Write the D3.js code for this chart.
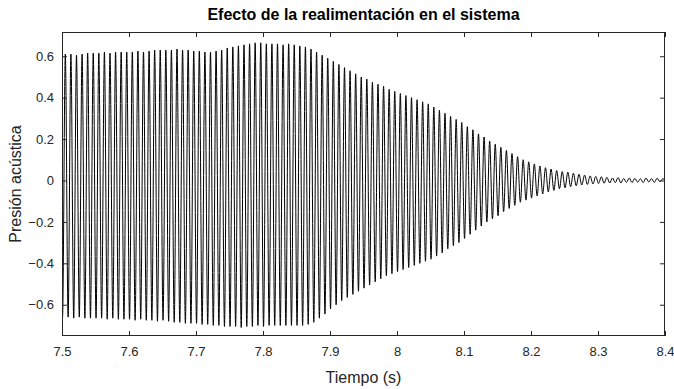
<!DOCTYPE html>
<html lang="es">
<head>
<meta charset="utf-8">
<title>Efecto de la realimentación en el sistema</title>
<script src="https://cdn.jsdelivr.net/npm/d3@7"></script>
<style>
  body { margin: 0; background: #fff; }
  svg text { font-family: "Liberation Sans", Arial, sans-serif; }
</style>
</head>
<body>
<div id="grafica"></div>
<script>
// ejes
var xTicks = [7.5, 7.6, 7.7, 7.8, 7.9, 8, 8.1, 8.2, 8.3, 8.4];
var yTicks = [-0.6, -0.4, -0.2, 0, 0.2, 0.4, 0.6];
var xLim = [7.5, 8.4];
var yLim = [-0.751, 0.717];

// señal: valor inicial, picos por ciclo (120 Hz) y valor final
var t0 = 7.5008;            // primer pico negativo (s)
var semiperiodo = 1 / 240;  // medio ciclo (s)
var inicio = { t: 7.5, p: -0.22 };
var fin = { t: 8.4, p: 0.004 };
var picosSup = [
  0.61, 0.61, 0.605, 0.61, 0.615, 0.615,
  0.615, 0.62, 0.615, 0.62, 0.62, 0.62,
  0.62, 0.625, 0.62, 0.625, 0.63, 0.63,
  0.63, 0.63, 0.635, 0.63, 0.63, 0.625,
  0.625, 0.62, 0.62, 0.625, 0.63, 0.64,
  0.645, 0.65, 0.655, 0.66, 0.665, 0.665,
  0.66, 0.66, 0.66, 0.655, 0.66, 0.655,
  0.65, 0.645, 0.635, 0.62, 0.605, 0.59,
  0.575, 0.56, 0.545, 0.53, 0.515, 0.50,
  0.49, 0.475, 0.465, 0.455, 0.44, 0.43,
  0.42, 0.41, 0.40, 0.39, 0.38, 0.37,
  0.355, 0.34, 0.325, 0.31, 0.295, 0.28,
  0.26, 0.245, 0.225, 0.21, 0.19, 0.175,
  0.16, 0.145, 0.13, 0.115, 0.10, 0.09,
  0.08, 0.07, 0.062, 0.055, 0.048, 0.043,
  0.04, 0.035, 0.03, 0.026, 0.022, 0.02,
  0.018, 0.015, 0.012, 0.014, 0.01, 0.012,
  0.01, 0.008, 0.012, 0.009, 0.011, 0.008
];
var picosInf = [
  -0.66, -0.66, -0.665, -0.66, -0.665, -0.665,
  -0.665, -0.665, -0.67, -0.665, -0.67, -0.67,
  -0.67, -0.675, -0.67, -0.675, -0.675, -0.68,
  -0.675, -0.68, -0.685, -0.685, -0.69, -0.69,
  -0.69, -0.695, -0.695, -0.70, -0.70, -0.705,
  -0.705, -0.705, -0.71, -0.705, -0.705, -0.70,
  -0.705, -0.70, -0.70, -0.70, -0.70, -0.70,
  -0.70, -0.70, -0.695, -0.685, -0.665, -0.645,
  -0.62, -0.60, -0.58, -0.565, -0.55, -0.535,
  -0.52, -0.505, -0.49, -0.475, -0.46, -0.45,
  -0.44, -0.43, -0.42, -0.41, -0.40, -0.39,
  -0.38, -0.365, -0.35, -0.33, -0.315, -0.30,
  -0.28, -0.26, -0.24, -0.22, -0.20, -0.185,
  -0.17, -0.15, -0.135, -0.12, -0.105, -0.095,
  -0.085, -0.075, -0.065, -0.055, -0.048, -0.04,
  -0.035, -0.03, -0.026, -0.022, -0.019, -0.017,
  -0.015, -0.013, -0.012, -0.01, -0.012, -0.009,
  -0.01, -0.008, -0.01, -0.007, -0.009, -0.006
];

var w = 674, h = 389;
var m = { top: 32, right: 9, bottom: 53, left: 62 };
var colorEje = "#262626";

var svg = d3.select("#grafica").append("svg")
  .attr("width", w).attr("height", h);

var x = d3.scaleLinear().domain(xLim).range([m.left, w - m.right]);
var y = d3.scaleLinear().domain(yLim).range([h - m.bottom, m.top]);

// puntos de la señal, alternando picos negativos y positivos
var puntos = [inicio];
picosInf.forEach(function(v, k) {
  puntos.push({ t: t0 + 2 * k * semiperiodo, p: v });
  puntos.push({ t: t0 + (2 * k + 1) * semiperiodo, p: picosSup[k] });
});
puntos.push(fin);

var linea = d3.line()
  .x(function(d) { return x(d.t); })
  .y(function(d) { return y(d.p); })
  .curve(d3.curveMonotoneX);

svg.append("clipPath").attr("id", "recorte")
  .append("rect")
  .attr("x", m.left).attr("y", m.top)
  .attr("width", w - m.left - m.right).attr("height", h - m.top - m.bottom);

svg.append("path")
  .datum(puntos)
  .attr("clip-path", "url(#recorte)")
  .attr("fill", "none")
  .attr("stroke", "#000")
  .attr("stroke-width", 1)
  .attr("d", linea);

// ejes (marcas hacia dentro, como MATLAB)
var fmt = function(d) { return d3.format("")(+d.toFixed(1)); };
var ejeX = d3.axisBottom(x).tickValues(xTicks).tickSize(-5).tickPadding(11).tickFormat(fmt);
var ejeY = d3.axisLeft(y).tickValues(yTicks).tickSize(-5).tickPadding(8).tickFormat(fmt);

function estilo(g) {
  g.select(".domain").remove();
  g.selectAll("line").attr("stroke", colorEje);
  g.selectAll("text").attr("fill", colorEje).attr("font-size", "13px");
}

svg.append("g").attr("transform", "translate(0," + (h - m.bottom) + ")").call(ejeX).call(estilo);
svg.append("g").attr("transform", "translate(" + m.left + ",0)").call(ejeY).call(estilo);
svg.append("g").attr("transform", "translate(0," + m.top + ")")
  .call(d3.axisTop(x).tickValues(xTicks).tickSize(-5).tickFormat(""))
  .call(estilo);
svg.append("g").attr("transform", "translate(" + (w - m.right) + ",0)")
  .call(d3.axisRight(y).tickValues(yTicks).tickSize(-5).tickFormat(""))
  .call(estilo);

// caja
svg.append("rect")
  .attr("x", m.left + 0.5).attr("y", m.top + 0.5)
  .attr("width", w - m.left - m.right - 1).attr("height", h - m.top - m.bottom - 1)
  .attr("fill", "none").attr("stroke", colorEje).attr("stroke-width", 1);

// textos
svg.append("text")
  .attr("x", (m.left + w - m.right) / 2).attr("y", 20)
  .attr("text-anchor", "middle")
  .attr("font-size", "16px").attr("font-weight", "bold")
  .attr("fill", "#000")
  .text("Efecto de la realimentación en el sistema");

svg.append("text")
  .attr("x", (m.left + w - m.right) / 2).attr("y", 383)
  .attr("text-anchor", "middle")
  .attr("font-size", "16px").attr("fill", colorEje)
  .text("Tiempo (s)");

svg.append("text")
  .attr("transform", "translate(21," + ((m.top + h - m.bottom) / 2) + ") rotate(-90)")
  .attr("text-anchor", "middle")
  .attr("font-size", "16px").attr("fill", colorEje)
  .text("Presión acústica");
</script>
</body>
</html>
